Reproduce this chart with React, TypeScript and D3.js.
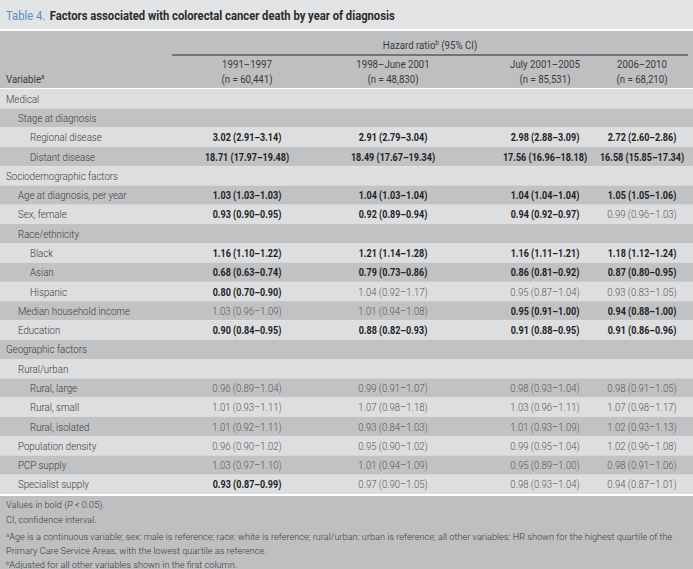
import React from "react";
import * as d3 from "d3";

const W = 693;
const H = 569;

const periods = ["1991–1997", "1998–June 2001", "July 2001–2005", "2006–2010"];
const periodN = ["(n = 60,441)", "(n = 48,830)", "(n = 85,531)", "(n = 68,210)"];

const rowLabels = [
  "Medical", "Stage at diagnosis", "Regional disease", "Distant disease",
  "Sociodemographic factors", "Age at diagnosis, per year", "Sex, female",
  "Race/ethnicity", "Black", "Asian", "Hispanic", "Median household income",
  "Education", "Geographic factors", "Rural/urban", "Rural, large", "Rural, small",
  "Rural, isolated", "Population density", "PCP supply", "Specialist supply",
];
const rowLevels = [0, 1, 2, 2, 0, 1, 1, 1, 2, 2, 2, 1, 1, 0, 1, 2, 2, 2, 1, 1, 1];

const hr1991 = ["", "", "3.02 (2.91–3.14)", "18.71 (17.97–19.48)", "", "1.03 (1.03–1.03)", "0.93 (0.90–0.95)", "", "1.16 (1.10–1.22)", "0.68 (0.63–0.74)", "0.80 (0.70–0.90)", "1.03 (0.96–1.09)", "0.90 (0.84–0.95)", "", "", "0.96 (0.89–1.04)", "1.01 (0.93–1.11)", "1.01 (0.92–1.11)", "0.96 (0.90–1.02)", "1.03 (0.97–1.10)", "0.93 (0.87–0.99)"];
const hr1998 = ["", "", "2.91 (2.79–3.04)", "18.49 (17.67–19.34)", "", "1.04 (1.03–1.04)", "0.92 (0.89–0.94)", "", "1.21 (1.14–1.28)", "0.79 (0.73–0.86)", "1.04 (0.92–1.17)", "1.01 (0.94–1.08)", "0.88 (0.82–0.93)", "", "", "0.99 (0.91–1.07)", "1.07 (0.98–1.18)", "0.93 (0.84–1.03)", "0.95 (0.90–1.02)", "1.01 (0.94–1.09)", "0.97 (0.90–1.05)"];
const hr2001 = ["", "", "2.98 (2.88–3.09)", "17.56 (16.96–18.18)", "", "1.04 (1.04–1.04)", "0.94 (0.92–0.97)", "", "1.16 (1.11–1.21)", "0.86 (0.81–0.92)", "0.95 (0.87–1.04)", "0.95 (0.91–1.00)", "0.91 (0.88–0.95)", "", "", "0.98 (0.93–1.04)", "1.03 (0.96–1.11)", "1.01 (0.93–1.09)", "0.99 (0.95–1.04)", "0.95 (0.89–1.00)", "0.98 (0.93–1.04)"];
const hr2006 = ["", "", "2.72 (2.60–2.86)", "16.58 (15.85–17.34)", "", "1.05 (1.05–1.06)", "0.99 (0.96–1.03)", "", "1.18 (1.12–1.24)", "0.87 (0.80–0.95)", "0.93 (0.83–1.05)", "0.94 (0.88–1.00)", "0.91 (0.86–0.96)", "", "", "0.98 (0.91–1.05)", "1.07 (0.98–1.17)", "1.02 (0.93–1.13)", "1.02 (0.96–1.08)", "0.98 (0.91–1.06)", "0.94 (0.87–1.01)"];

const bold1991 = [0, 0, 1, 1, 0, 1, 1, 0, 1, 1, 1, 0, 1, 0, 0, 0, 0, 0, 0, 0, 1];
const bold1998 = [0, 0, 1, 1, 0, 1, 1, 0, 1, 1, 0, 0, 1, 0, 0, 0, 0, 0, 0, 0, 0];
const bold2001 = [0, 0, 1, 1, 0, 1, 1, 0, 1, 1, 0, 1, 1, 0, 0, 0, 0, 0, 0, 0, 0];
const bold2006 = [0, 0, 1, 1, 0, 1, 0, 0, 1, 1, 0, 1, 1, 0, 0, 0, 0, 0, 0, 0, 0];

const FONT = "Roboto, 'Open Sans', sans-serif";
const TXT = "#3a3a3a";

function CT(props: any) {
  const { x, y, s = 0.88, children, ...rest } = props;
  return (
    <text transform={`translate(${x},${y}) scale(${s},1)`} {...rest}>{children}</text>
  );
}

export default function App() {
  const cols = [hr1991, hr1998, hr2001, hr2006];
  const bolds = [bold1991, bold1998, bold2001, bold2006];
  const y = d3.scaleBand<number>().domain(d3.range(rowLabels.length)).range([89, 494]).paddingInner(0);
  const x = d3.scaleOrdinal<number, number>().domain([0, 1, 2, 3]).range([247, 393, 545, 642]);
  const indent = d3.scaleOrdinal<number, number>().domain([0, 1, 2]).range([6, 18, 30]);

  return (
    <svg width={W} height={H} style={{ position: "absolute", left: 0, top: 0, fontFamily: FONT }}>
      <rect x={0} y={0} width={W} height={H} fill="#ffffff" />
      <rect x={0} y={0} width={W} height={29} fill="#e2e3e5" />
      <CT x={6} y={20} s={0.9} fontSize={12.5} fontWeight={700}>
        <tspan fill="#5a8dc4" fontWeight={400}>Table 4.</tspan>
        <tspan fill="#2b2b2b" dx={5}>Factors associated with colorectal cancer death by year of diagnosis</tspan>
      </CT>
      <rect x={0} y={31} width={W} height={57} fill="#bebfc1" />
      <CT x={430} y={49} fontSize={11} textAnchor="middle" fill={TXT} fontWeight={400}>
        Hazard ratio<tspan fontSize={7} dy={-4}>b</tspan><tspan dy={4}> (95% CI)</tspan>
      </CT>
      <line x1={172} x2={688} y1={55} y2={55} stroke="#2a2a2a" strokeWidth={1} />
      {periods.map((p, i) => (
        <g key={p}>
          <CT x={x(i)} y={68} fontSize={11} textAnchor="middle" fill={TXT}>{p}</CT>
          <CT x={x(i)} y={83} fontSize={11} textAnchor="middle" fill={TXT}>{periodN[i]}</CT>
        </g>
      ))}
      <CT x={6} y={83} fontSize={11} fill={TXT}>
        Variable<tspan fontSize={7} dy={-4}>a</tspan>
      </CT>
      {rowLabels.map((lab, r) => {
        const y0 = y(r)!;
        const bh = y.bandwidth();
        return (
          <g key={r}>
            <rect x={0} y={y0} width={W} height={bh} fill={r % 2 === 0 ? "#dddee0" : "#c1c2c4"} />
            <CT x={indent(rowLevels[r])} y={y0 + bh / 2 + 4} fontSize={11} fill={TXT} fontWeight={300}>{lab}</CT>
            {cols.map((c, ci) => c[r] ? (
              <CT key={ci} x={x(ci)} y={y0 + bh / 2 + 4} s={bolds[ci][r] ? 0.82 : 0.87} fontSize={11} textAnchor="middle"
                fill={bolds[ci][r] ? "#222" : "#555"} fontWeight={bolds[ci][r] ? 700 : 300}>{c[r]}</CT>
            ) : null)}
          </g>
        );
      })}
      <rect x={0} y={496} width={W} height={H - 496} fill="#bebfc1" />
      <g fontSize={9.2} fill="#3a3a3a" fontWeight={300}>
        <text x={6} y={508}>Values in bold (<tspan fontStyle="italic">P</tspan> &lt; 0.05).</text>
        <text x={6} y={523}>CI, confidence interval.</text>
        <text x={6} y={540}><tspan fontSize={6} dy={-3}>a</tspan><tspan dy={3}>Age is a continuous variable; sex: male is reference; race: white is reference; rural/urban: urban is reference; all other variables: HR shown for the highest quartile of the</tspan></text>
        <text x={6} y={554}>Primary Care Service Areas, with the lowest quartile as reference.</text>
        <text x={6} y={568}><tspan fontSize={6} dy={-3}>b</tspan><tspan dy={3}>Adjusted for all other variables shown in the first column.</tspan></text>
      </g>
    </svg>
  );
}
